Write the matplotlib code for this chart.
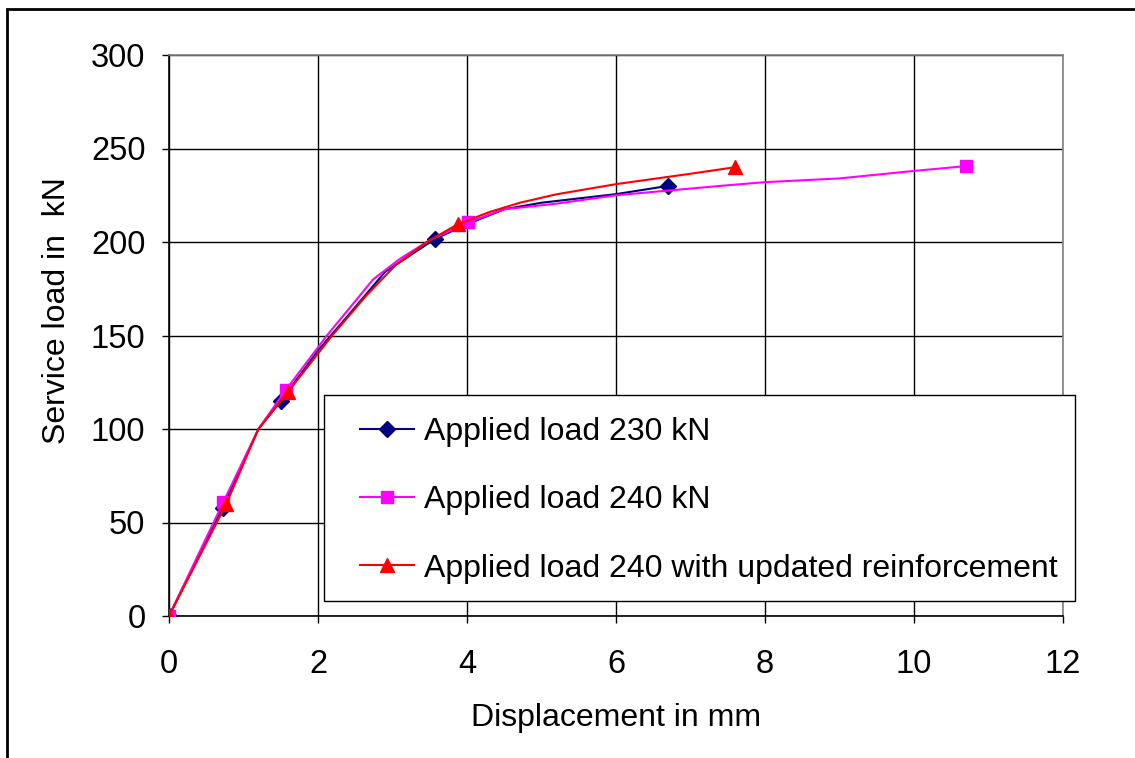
import matplotlib
matplotlib.use("Agg")
import matplotlib.pyplot as plt
from matplotlib.patches import Rectangle

plt.rcParams['font.family'] = ['Liberation Sans', 'DejaVu Sans']

# Series: Applied load 230 kN (line points; markers at data points)
x230 = [0.0, 0.72, 1.20, 1.50, 2.00, 2.39, 2.90, 3.57, 4.00, 4.50, 5.00, 6.00, 6.70]
y230 = [0.0, 58.0, 100.0, 115.0, 142.0, 160.0, 184.0, 201.6, 209.5, 217.5, 221.0, 225.6, 230.0]
m230 = [0, 1, 3, 7, 12]

# Series: Applied load 240 kN
x240 = [0.0, 0.73, 1.20, 1.57, 2.12, 2.74, 3.10, 3.50, 4.01, 4.50, 5.20, 6.00, 7.40, 8.00, 9.00, 10.00, 10.70]
y240 = [0.0, 61.0, 100.0, 121.0, 150.0, 180.0, 191.0, 201.0, 210.5, 217.5, 220.5, 225.0, 230.0, 232.0, 234.0, 238.0, 240.6]
m240 = [0, 1, 3, 8, 16]

# Series: Applied load 240 with updated reinforcement
xupd = [0.0, 0.77, 1.20, 1.60, 2.19, 2.64, 3.05, 3.46, 3.88, 4.30, 4.71, 5.20, 6.01, 7.00, 7.60]
yupd = [0.0, 60.0, 100.0, 120.0, 150.0, 171.0, 188.0, 200.0, 209.6, 216.0, 221.0, 225.5, 231.0, 236.5, 240.0]
mupd = [0, 1, 3, 8, 14]

labels = ["Applied load 230 kN", "Applied load 240 kN",
          "Applied load 240 with updated reinforcement"]
xticks = [0, 2, 4, 6, 8, 10, 12]
yticks = [0, 50, 100, 150, 200, 250, 300]

fig = plt.figure(figsize=(11.35, 7.58), dpi=100)
ax = fig.add_axes([169/1135, 1-616/758, 894/1135, 561/758])

ax.plot(x230, y230, color='#000080', lw=1.5, marker='D', ms=8, markevery=m230,
        label=labels[0], zorder=3)
ax.plot(x240, y240, color='#FF00FF', lw=1.5, marker='s', ms=9, markevery=m240,
        label=labels[1], zorder=3)
ax.plot(xupd, yupd, color='#FF0000', lw=1.5, marker='^', ms=10.5, markevery=mupd,
        label=labels[2], zorder=4)

ax.set_xlim(0, 12)
ax.set_ylim(0, 300)
ax.set_xticks(xticks)
ax.set_yticks(yticks)
ax.grid(True, color='black', lw=1)
ax.set_axisbelow(True)
for s in ['top', 'right']:
    ax.spines[s].set_color('#808080')
for s in ['left', 'bottom']:
    ax.spines[s].set_color('black')
for s in ax.spines.values():
    s.set_linewidth(1.2)
ax.tick_params(axis='both', direction='out', length=5, width=1, labelsize=23.5)
ax.tick_params(axis='x', pad=19)
ax.tick_params(axis='y', pad=12)

ax.set_xlabel("Displacement in mm", fontsize=23, labelpad=16)
ax.set_ylabel("Service load in  kN", fontsize=23)
ax.yaxis.set_label_coords(-0.108, 0.545)

# legend frame (drawn separately so the content can sit with Excel-like padding)
ax.add_patch(Rectangle((155/894, 15/561), 751/894, 206/561, transform=ax.transAxes,
                       facecolor='white', edgecolor='black', lw=1.0, clip_on=False,
                       zorder=5))
leg = ax.legend(loc='upper left', bbox_to_anchor=(191/894, 199/561),
                fontsize=23, frameon=False, borderaxespad=0, borderpad=0,
                handlelength=1.7, handletextpad=0.3, labelspacing=1.2)
leg.set_zorder(6)

fig.patches.append(Rectangle((7/1135, -0.05), 1.1, 1-9/758+0.05, transform=fig.transFigure,
                             fill=False, edgecolor='black', lw=2, clip_on=False))

fig.savefig("out.png", dpi=100)
